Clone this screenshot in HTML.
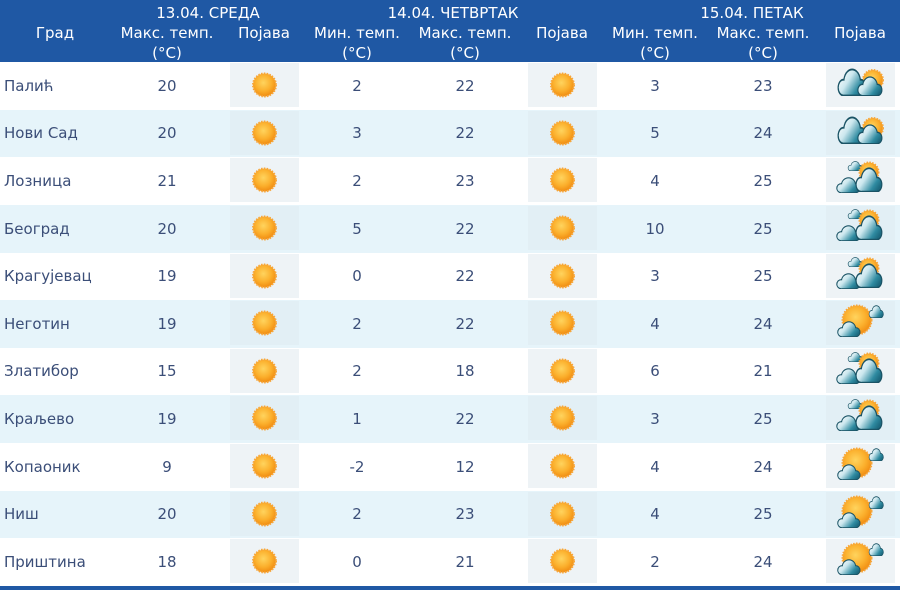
<!DOCTYPE html>
<html><head><meta charset="utf-8">
<style>
html,body{margin:0;padding:0;}
body{width:900px;height:590px;position:relative;overflow:hidden;background:#fff;font-family:"DejaVu Sans","Liberation Sans",sans-serif;}
.hd{position:absolute;left:0;top:0;width:900px;height:62px;background:#1f58a4;color:#fff;font-size:15px;}
.hd span{position:absolute;width:160px;text-align:center;line-height:20px;white-space:nowrap;}
.ft{position:absolute;left:0;top:586px;width:900px;height:4px;background:#1f58a4;}
.r{position:absolute;left:0;width:900px;color:#3b4e78;font-size:15px;}
.r.b{background:#e6f4fa;}
.r span{position:absolute;top:0;text-align:center;width:100px;white-space:nowrap;}
.r .n{left:4px;text-align:left;width:200px;}
.c1{left:117px}.c2{left:307px}.c3{left:415px}.c4{left:605px}.c5{left:713px}
.ic{position:absolute;top:1px;width:69px;height:44px;background:#eef3f6;}
.r.b .ic{background:#e2eff5;}
.i1{left:230px}.i2{left:528px}.i3{left:826px}
.ic svg{display:block;width:69px;height:44px;}
</style></head><body>
<svg width="0" height="0" style="position:absolute">
<defs>
<radialGradient id="sg" cx="0.45" cy="0.4" r="0.6">
<stop offset="0" stop-color="#ffd45e"/><stop offset="0.6" stop-color="#fbaf2c"/><stop offset="1" stop-color="#f08c12"/>
</radialGradient>
<linearGradient id="cg" gradientUnits="userSpaceOnUse" x1="15" y1="5" x2="75" y2="62">
<stop offset="0" stop-color="#ffffff"/><stop offset="0.4" stop-color="#cbe7ee"/><stop offset="0.8" stop-color="#2f8ba1"/><stop offset="1" stop-color="#1d6a80"/>
</linearGradient>
<symbol id="cl" viewBox="0 0 100 60" preserveAspectRatio="none">
<g fill="#1a5365">
<circle cx="24" cy="42" r="19"/><circle cx="52" cy="30" r="29"/><circle cx="79" cy="42" r="19"/><rect x="24" y="38" width="55" height="22"/>
</g>
<g fill="url(#cg)">
<circle cx="24" cy="42" r="15"/><circle cx="52" cy="30" r="25"/><circle cx="79" cy="42" r="15"/><rect x="24" y="40" width="55" height="17"/>
</g>
</symbol>
<symbol id="sun" viewBox="0 0 69 44">
<circle cx="34.5" cy="22" r="11.5" fill="url(#sg)" stroke="#f7a63a" stroke-width="2" stroke-dasharray="1.5 1.3"/>
</symbol>
<symbol id="wa" viewBox="0 0 69 44">
<circle cx="47" cy="17" r="10" fill="url(#sg)" stroke="#f7a63a" stroke-width="2" stroke-dasharray="1.5 1.3"/>
<use href="#cl" x="10" y="5" width="31" height="28"/>
<use href="#cl" x="30" y="13" width="27" height="20"/>
</symbol>
<symbol id="wb" viewBox="0 0 69 44">
<use href="#cl" x="21" y="3" width="16" height="10"/>
<circle cx="43" cy="14" r="9.5" fill="url(#sg)" stroke="#f7a63a" stroke-width="2" stroke-dasharray="1.5 1.3"/>
<use href="#cl" x="9" y="19" width="26" height="16"/>
<use href="#cl" x="28" y="9" width="29" height="25"/>
</symbol>
<symbol id="wc" viewBox="0 0 69 44">
<circle cx="31" cy="19" r="14.5" fill="url(#sg)" stroke="#f7a63a" stroke-width="2" stroke-dasharray="1.5 1.3"/>
<use href="#cl" x="42" y="4" width="16" height="13"/>
<use href="#cl" x="10" y="20" width="25" height="16"/>
</symbol>
</defs></svg>

<div class="hd">
<span style="left:128px;top:3px">13.04. СРЕДА</span>
<span style="left:373px;top:3px">14.04. ЧЕТВРТАК</span>
<span style="left:672px;top:3px">15.04. ПЕТАК</span>
<span style="left:-25px;top:23px">Град</span>
<span style="left:87px;top:23px">Макс. темп.</span>
<span style="left:87px;top:43px">(°C)</span>
<span style="left:184px;top:23px">Појава</span>
<span style="left:277px;top:23px">Мин. темп.</span>
<span style="left:277px;top:43px">(°C)</span>
<span style="left:385px;top:23px">Макс. темп.</span>
<span style="left:385px;top:43px">(°C)</span>
<span style="left:482px;top:23px">Појава</span>
<span style="left:575px;top:23px">Мин. темп.</span>
<span style="left:575px;top:43px">(°C)</span>
<span style="left:683px;top:23px">Макс. темп.</span>
<span style="left:683px;top:43px">(°C)</span>
<span style="left:780px;top:23px">Појава</span>
</div>

<div class="r" style="top:62px;height:48px;line-height:48px"><span class="n">Палић</span><span class="c1">20</span><div class="ic i1"><svg><use href="#sun"/></svg></div><span class="c2">2</span><span class="c3">22</span><div class="ic i2"><svg><use href="#sun"/></svg></div><span class="c4">3</span><span class="c5">23</span><div class="ic i3"><svg><use href="#wa"/></svg></div></div>
<div class="r b" style="top:110px;height:47px;line-height:47px"><span class="n">Нови Сад</span><span class="c1">20</span><div class="ic i1"><svg><use href="#sun"/></svg></div><span class="c2">3</span><span class="c3">22</span><div class="ic i2"><svg><use href="#sun"/></svg></div><span class="c4">5</span><span class="c5">24</span><div class="ic i3"><svg><use href="#wa"/></svg></div></div>
<div class="r" style="top:157px;height:48px;line-height:48px"><span class="n">Лозница</span><span class="c1">21</span><div class="ic i1"><svg><use href="#sun"/></svg></div><span class="c2">2</span><span class="c3">23</span><div class="ic i2"><svg><use href="#sun"/></svg></div><span class="c4">4</span><span class="c5">25</span><div class="ic i3"><svg><use href="#wb"/></svg></div></div>
<div class="r b" style="top:205px;height:48px;line-height:48px"><span class="n">Београд</span><span class="c1">20</span><div class="ic i1"><svg><use href="#sun"/></svg></div><span class="c2">5</span><span class="c3">22</span><div class="ic i2"><svg><use href="#sun"/></svg></div><span class="c4">10</span><span class="c5">25</span><div class="ic i3"><svg><use href="#wb"/></svg></div></div>
<div class="r" style="top:253px;height:47px;line-height:47px"><span class="n">Крагујевац</span><span class="c1">19</span><div class="ic i1"><svg><use href="#sun"/></svg></div><span class="c2">0</span><span class="c3">22</span><div class="ic i2"><svg><use href="#sun"/></svg></div><span class="c4">3</span><span class="c5">25</span><div class="ic i3"><svg><use href="#wb"/></svg></div></div>
<div class="r b" style="top:300px;height:48px;line-height:48px"><span class="n">Неготин</span><span class="c1">19</span><div class="ic i1"><svg><use href="#sun"/></svg></div><span class="c2">2</span><span class="c3">22</span><div class="ic i2"><svg><use href="#sun"/></svg></div><span class="c4">4</span><span class="c5">24</span><div class="ic i3"><svg><use href="#wc"/></svg></div></div>
<div class="r" style="top:348px;height:47px;line-height:47px"><span class="n">Златибор</span><span class="c1">15</span><div class="ic i1"><svg><use href="#sun"/></svg></div><span class="c2">2</span><span class="c3">18</span><div class="ic i2"><svg><use href="#sun"/></svg></div><span class="c4">6</span><span class="c5">21</span><div class="ic i3"><svg><use href="#wb"/></svg></div></div>
<div class="r b" style="top:395px;height:48px;line-height:48px"><span class="n">Краљево</span><span class="c1">19</span><div class="ic i1"><svg><use href="#sun"/></svg></div><span class="c2">1</span><span class="c3">22</span><div class="ic i2"><svg><use href="#sun"/></svg></div><span class="c4">3</span><span class="c5">25</span><div class="ic i3"><svg><use href="#wb"/></svg></div></div>
<div class="r" style="top:443px;height:48px;line-height:48px"><span class="n">Копаоник</span><span class="c1">9</span><div class="ic i1"><svg><use href="#sun"/></svg></div><span class="c2">-2</span><span class="c3">12</span><div class="ic i2"><svg><use href="#sun"/></svg></div><span class="c4">4</span><span class="c5">24</span><div class="ic i3"><svg><use href="#wc"/></svg></div></div>
<div class="r b" style="top:491px;height:47px;line-height:47px"><span class="n">Ниш</span><span class="c1">20</span><div class="ic i1"><svg><use href="#sun"/></svg></div><span class="c2">2</span><span class="c3">23</span><div class="ic i2"><svg><use href="#sun"/></svg></div><span class="c4">4</span><span class="c5">25</span><div class="ic i3"><svg><use href="#wc"/></svg></div></div>
<div class="r" style="top:538px;height:48px;line-height:48px"><span class="n">Приштина</span><span class="c1">18</span><div class="ic i1"><svg><use href="#sun"/></svg></div><span class="c2">0</span><span class="c3">21</span><div class="ic i2"><svg><use href="#sun"/></svg></div><span class="c4">2</span><span class="c5">24</span><div class="ic i3"><svg><use href="#wc"/></svg></div></div>

<div class="ft"></div>
</body></html>
